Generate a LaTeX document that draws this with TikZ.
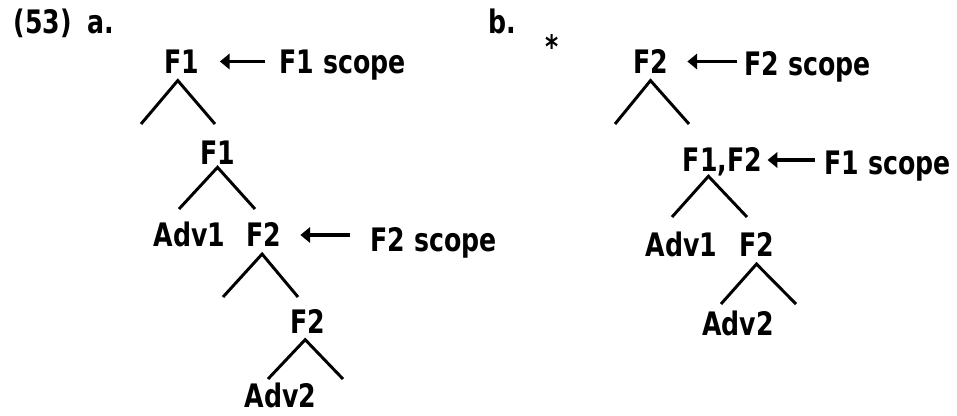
\documentclass[tikz,border=0pt]{standalone}
\usepackage{fontspec}
\setmainfont{DejaVu Sans}[FakeStretch=0.78]
\usetikzlibrary{arrows.meta}

\begin{document}
\begin{tikzpicture}[x=0.025cm, y=-0.025cm, line width=2.1pt,
  lab/.style={font=\fontsize{23}{28}\selectfont\bfseries, inner sep=0pt,
    text height=17pt, text depth=0pt},
  scarrow/.style={-{Triangle[length=7pt, width=11pt]}, line width=2.6pt}]
  \useasboundingbox (0,0) rectangle (957,415);

  % (53) a. 树
  \node[lab, anchor=west] (exa)   at (12,22)      {(53)\hspace{11pt}a.};
  \node[lab]              (f1a)   at (182,61.5)   {F1};
  \node[lab, anchor=west] (sc1a)  at (278,61.5)   {F1 scope};
  \node[lab]              (f1b)   at (217.5,152.5) {F1};
  \node[lab]              (adv1a) at (189.5,235)  {Adv1};
  \node[lab]              (f2a)   at (263.5,235)  {F2};
  \node[lab, anchor=west] (sc2a)  at (369,240)    {F2 scope};
  \node[lab]              (f2b)   at (308,322)    {F2};
  \node[lab]              (adv2a) at (280.5,396)  {Adv2};

  % b. 树
  \node[lab, anchor=west] (exb)   at (487,22)     {b.};
  \node[lab]              (star)  at (552,47)     {*};
  \node[lab]              (f2d)   at (650.5,61.5) {F2};
  \node[lab, anchor=west] (sc2b)  at (743,64)     {F2 scope};
  \node[lab]              (f12)   at (722.5,160)  {F1,F2};
  \node[lab, anchor=west] (sc1b)  at (823,163)    {F1 scope};
  \node[lab]              (adv1b) at (681.5,245)  {Adv1};
  \node[lab]              (f2c)   at (756.5,245)  {F2};
  \node[lab]              (adv2b) at (738,323.5)  {Adv2};

  % 分支端点
  \coordinate (f1a-l) at (141,124);
  \coordinate (f1a-r) at (215,124);
  \coordinate (f1b-l) at (179,209);
  \coordinate (f1b-r) at (255,209);
  \coordinate (f2a-l) at (223,297);
  \coordinate (f2a-r) at (298,297);
  \coordinate (f2b-l) at (268,379);
  \coordinate (f2b-r) at (343,379);
  \coordinate (f2d-l) at (615,124);
  \coordinate (f2d-r) at (689,124);
  \coordinate (f12-l) at (672,217);
  \coordinate (f12-r) at (747,217);
  \coordinate (f2c-l) at (721,304);
  \coordinate (f2c-r) at (796,304);

  % 分支
  \draw (f1a-l) -- ([xshift=-3pt, yshift=-4pt]f1a.south) -- (f1a-r);
  \draw (f1b-l) -- ([yshift=-1pt]f1b.south) -- (f1b-r);
  \draw (f2a-l) -- ([xshift=-1pt, yshift=-4pt]f2a.south) -- (f2a-r);
  \draw (f2b-l) -- ([xshift=-2pt, yshift=-3pt]f2b.south) -- (f2b-r);
  \draw (f2d-l) -- ([yshift=-4pt]f2d.south) -- (f2d-r);
  \draw (f12-l) -- ([xshift=-10pt, yshift=-2pt]f12.south) -- (f12-r);
  \draw (f2c-l) -- ([yshift=-4pt]f2c.south) -- (f2c-r);

  % scope 箭头
  \draw[scarrow, shorten <=0.325cm, shorten >=0.475cm] (sc1a.west) -- (f1a.east);
  \draw[scarrow, shorten <=0.475cm, shorten >=0.45cm] (sc2a.west |- f2a) -- (f2a.east);
  \draw[scarrow, shorten <=0.15cm, shorten >=0.45cm] (sc2b.west |- f2d) -- (f2d.east);
  \draw[scarrow, shorten <=0.2cm, shorten >=0.1cm] (sc1b.west |- f12) -- (f12.east);
\end{tikzpicture}
\end{document}
